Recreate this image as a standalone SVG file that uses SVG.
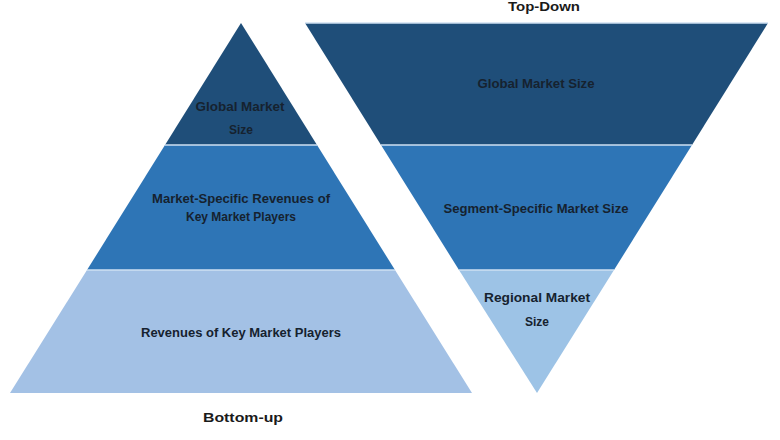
<svg xmlns="http://www.w3.org/2000/svg" width="780" height="440" viewBox="0 0 780 440">
<style>
.lbl{font-family:"Liberation Sans",Arial,sans-serif;font-weight:bold;font-size:12px;fill:#16222f;text-anchor:middle}
.ttl{font-family:"Liberation Sans",Arial,sans-serif;font-weight:bold;font-size:13px;fill:#1a1a1a;text-anchor:middle}
.dark{fill:#1f4e79}
.mid{fill:#2e75b6}
.light{fill:#a3c1e5}
.lightR{fill:#9dc3e6}
.sep{stroke:#cfe0f2;stroke-width:1.5}
</style>
<rect width="780" height="440" fill="#ffffff"/>
<text class="ttl" x="544" y="11" textLength="72" lengthAdjust="spacingAndGlyphs">Top-Down</text>
<g id="bottom-up">
  <g id="bu-global">
    <polygon class="dark" points="241,23 317,145 165,145"/>
    <text class="lbl" x="240" y="111" textLength="89" lengthAdjust="spacingAndGlyphs">Global Market</text>
    <text class="lbl" x="241" y="134">Size</text>
  </g>
  <g id="bu-market-specific">
    <polygon class="mid" points="165,145 317,145 395,270 87,270"/>
    <text class="lbl" x="241" y="203" textLength="178" lengthAdjust="spacingAndGlyphs">Market-Specific Revenues of</text>
    <text class="lbl" x="241" y="221" textLength="110" lengthAdjust="spacingAndGlyphs">Key Market Players</text>
  </g>
  <g id="bu-revenues">
    <polygon class="light" points="87,270 395,270 472,393 10,393"/>
    <text class="lbl" x="241" y="337" textLength="200" lengthAdjust="spacingAndGlyphs">Revenues of Key Market Players</text>
  </g>
  <text class="ttl" x="243" y="422" textLength="80" lengthAdjust="spacingAndGlyphs">Bottom-up</text>
</g>
<g id="top-down">
  <g id="td-global">
    <polygon class="dark" points="305,23 768,23 692,145 381,145"/>
    <text class="lbl" x="536" y="88" textLength="117" lengthAdjust="spacingAndGlyphs">Global Market Size</text>
  </g>
  <g id="td-segment">
    <polygon class="mid" points="381,145 692,145 614,270 459,270"/>
    <text class="lbl" x="536" y="213" textLength="185" lengthAdjust="spacingAndGlyphs">Segment-Specific Market Size</text>
  </g>
  <g id="td-regional">
    <polygon class="lightR" points="459,270 614,270 537,393"/>
    <text class="lbl" x="537" y="302" textLength="106" lengthAdjust="spacingAndGlyphs">Regional Market</text>
    <text class="lbl" x="537" y="326">Size</text>
  </g>
</g>
<g id="connectors">
  <line class="sep" x1="165" y1="145" x2="317" y2="145"/>
  <line class="sep" x1="87" y1="270" x2="395" y2="270"/>
  <line class="sep" x1="381" y1="145" x2="692" y2="145"/>
  <line class="sep" x1="459" y1="270" x2="614" y2="270"/>
  <line class="sep" x1="305" y1="23" x2="768" y2="23"/>
</g>
</svg>
